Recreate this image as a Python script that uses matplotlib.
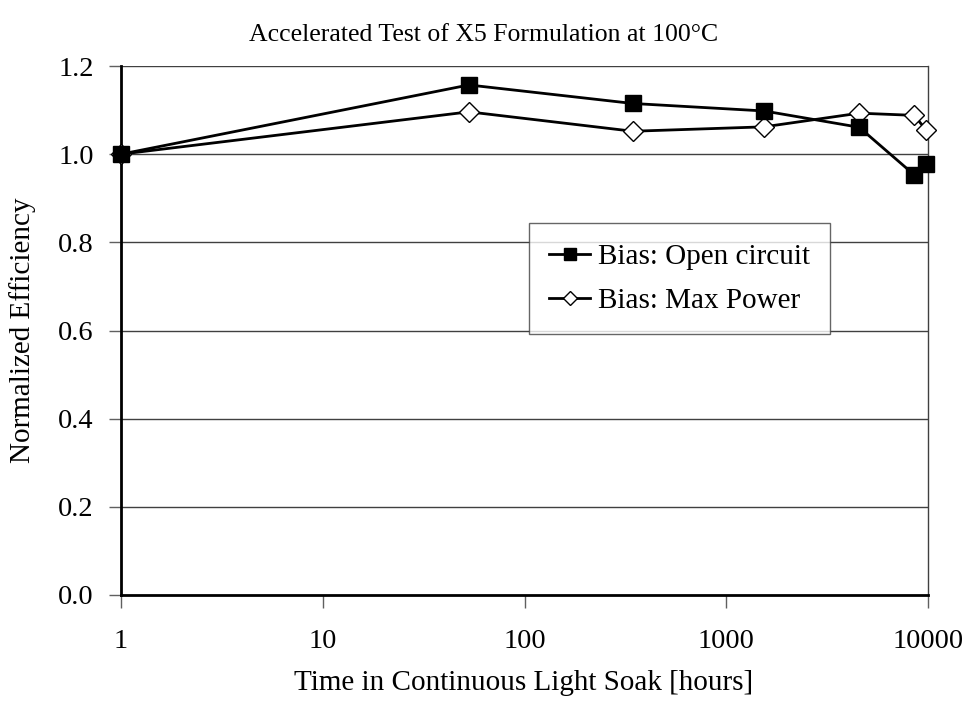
import numpy as np
import matplotlib
matplotlib.use('Agg')
import matplotlib.pyplot as plt
from matplotlib.ticker import FixedLocator, NullLocator

plt.rcParams['font.family'] = ['Liberation Serif', 'DejaVu Serif']

# hours of light soak
hours = [1, 53, 344, 1540, 4560, 8550, 9820]
open_circuit = [1.0, 1.157, 1.115, 1.098, 1.061, 0.953, 0.978]
max_power = [1.0, 1.096, 1.052, 1.062, 1.093, 1.088, 1.054]

x_ticks = [1, 10, 100, 1000, 10000]
x_labels = ['1', '10', '100', '1000', '10000']
y_ticks = [0.0, 0.2, 0.4, 0.6, 0.8, 1.0, 1.2]

W, H = 968, 702
fig = plt.figure(figsize=(W / 100, H / 100), dpi=100)
ax = fig.add_axes([121 / W, 1 - 595 / H, 807 / W, 529 / H])

# horizontal grid
for y in y_ticks[1:]:
    ax.axhline(y, color='#404040', lw=1.0, zorder=1)

ax.plot(hours, max_power, color='black', lw=2, marker='D', ms=10,
        mfc='white', mec='black', mew=1, label='Bias: Max Power',
        zorder=3, clip_on=False)
ax.plot(hours, open_circuit, color='black', lw=2, marker='s', ms=11,
        mfc='black', mec='black', label='Bias: Open circuit',
        zorder=4, clip_on=False)

ax.set_xscale('log')
ax.set_xlim(1, 10000)
ax.set_ylim(0, 1.2)
ax.xaxis.set_major_locator(FixedLocator(x_ticks))
ax.xaxis.set_minor_locator(NullLocator())
ax.set_xticklabels(x_labels)
ax.set_yticks(y_ticks)
ax.set_yticklabels(['%.1f' % v for v in y_ticks])

ax.spines['left'].set_linewidth(2)
ax.spines['bottom'].set_linewidth(2)
ax.spines['top'].set_visible(False)
ax.spines['right'].set_color('#404040')
ax.spines['right'].set_linewidth(1)
ax.tick_params(direction='out', length=9, width=1, color='#606060',
               labelsize=20.5)
ax.tick_params(axis='x', pad=15.5)
ax.tick_params(axis='y', pad=10.5)

fig.text(524 / W, 1 - 683 / H, 'Time in Continuous Light Soak [hours]',
         ha='center', va='center', fontsize=21)
fig.text(23 / W, 1 - 330 / H, 'Normalized Efficiency', rotation=90,
         ha='center', va='center', fontsize=21)
fig.text(0.5, 1 - 35 / H, 'Accelerated Test of X5 Formulation at 100\u00b0C',
         ha='center', va='center', fontsize=18.5)

# legend order: open circuit first
handles, labels = ax.get_legend_handles_labels()
leg = ax.legend(handles[::-1], labels[::-1], loc='upper left',
                bbox_to_anchor=((529 - 121) / 807, (595 - 223) / 529),
                borderaxespad=0, fontsize=21, fancybox=False, frameon=True,
                handlelength=1.4, handletextpad=0.25, labelspacing=0.6,
                borderpad=0.7, markerscale=0.75)
leg.get_frame().set_edgecolor('#404040')
leg.get_frame().set_linewidth(1)

fig.savefig('out.png', dpi=100)
